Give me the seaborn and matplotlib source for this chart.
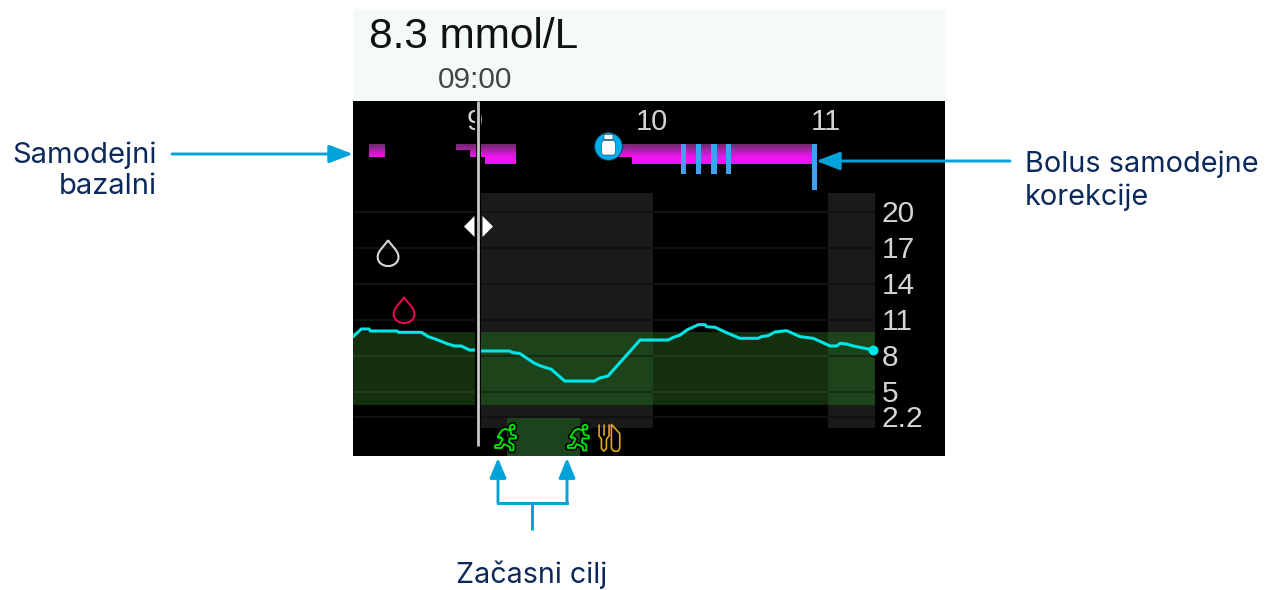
import numpy as np
import pandas as pd
import matplotlib
matplotlib.use("Agg")
import matplotlib.pyplot as plt
import matplotlib.patheffects as pe
from matplotlib.colors import LinearSegmentedColormap
from matplotlib.path import Path
import seaborn as sns

# glucose trace, minutes after 09:00 and mmol/L
glucose_min = [-43.1, -40.2, -37.6, -37.1, -27.9, -27.4, -19.5, -17.2, -14.4, -10.3, -8.1, -5.8, -2.9, -0.9,
               1.1, 10.9, 12.05, 14.35, 19.5, 21.8, 25.3, 29.9, 40.2, 41.9, 44.8, 48.2, 52.8, 55.9, 60.3,
               65.6, 67.4, 69.7, 72.0, 76.0, 78.3, 78.8, 81.7, 85.7, 90.3, 96.6, 97.8, 100.1, 102.4, 106.4,
               111.0, 115.6, 121.4, 123.7, 124.8, 127.1, 129.4, 136.3]
glucose_mmol = [9.59, 10.23, 10.23, 10.06, 10.06, 9.95, 9.95, 9.59, 9.36, 8.97, 8.81, 8.81, 8.47, 8.47,
                8.39, 8.39, 8.25, 8.19, 7.36, 7.13, 6.86, 5.88, 5.88, 6.13, 6.30, 7.22, 8.47, 9.31, 9.31,
                9.31, 9.53, 9.72, 10.14, 10.59, 10.59, 10.42, 10.37, 9.92, 9.45, 9.45, 9.59, 9.67, 9.98, 10.09,
                9.59, 9.45, 8.81, 8.81, 9.03, 8.97, 8.81, 8.47]

# auto basal segments
basal_start = [-37.6, -7.5, -2.9, 0.9, 2.3, 46.2, 53.2]
basal_end = [-32.4, -2.9, -0.9, 2.3, 12.7, 53.2, 115.0]
basal_rate = [1.3, 0.6, 1.3, 1.3, 2.0, 1.3, 2.0]

# auto correction boluses
bolus_min = [70.8, 76.0, 81.3, 86.3, 116.0]
bolus_size = [3.0, 3.0, 3.0, 3.0, 4.65]

grid_values = [20, 17, 14, 11, 8, 5, 2.87]
grid_labels = ["20", "17", "14", "11", "8", "5", "2.2"]
hour_min = [0, 60, 120]
hour_labels = ["9", "10", "11"]

target_low, target_high = 3.9, 10.0
shaded_windows = [(1.0, 60.2), (120.8, 136.9)]
clear_windows = [(-43.1, -0.9), (60.2, 120.8)]
temp_target_min = [9.4, 34.5]
meal_min = [45.2]

W, H = 1271, 590
NAVY = "#0b2a5b"
ARROW = "#00a3d9"
SCREEN = ["Liberation Sans", "DejaVu Sans"]
CAPTION = ["Inter", "DejaVu Sans"]


def px_rect(left, top, right, bottom):
    return [left / W, 1 - bottom / H, (right - left) / W, (bottom - top) / H]


def shape(points, cx, cy, closed=True):
    verts = [(x - cx, cy - y) for x, y in points]
    codes = [Path.MOVETO] + [Path.LINETO] * (len(verts) - 1)
    if closed:
        verts.append(verts[0])
        codes.append(Path.CLOSEPOLY)
    return Path(verts, codes)


sns.set_theme(style="white")
plt.rcParams["font.family"] = SCREEN

fig = plt.figure(figsize=(W / 100, H / 100), dpi=100, facecolor="white")
ax = fig.add_axes(px_rect(353, 101, 945, 456), facecolor="black", zorder=1)
ax_basal = fig.add_axes(px_rect(353, 144, 945, 194), facecolor="none", zorder=2)
ax_px = fig.add_axes([0, 0, 1, 1], facecolor="none", zorder=3)

# background bands and grid
for lo, hi in clear_windows:
    ax.fill_between([lo, hi], target_low, target_high, color="#132f0e", lw=0, zorder=1)
    ax.hlines(grid_values, lo, hi, colors="white", alpha=0.09, lw=1.1, zorder=1.5)
for lo, hi in shaded_windows:
    ax.fill_between([lo, hi], 1.95, 21.6, color="#1a1a1a", lw=0, zorder=1)
    ax.fill_between([lo, hi], target_low, target_high, color="#1c431a", lw=0, zorder=1.2)
    ax.hlines(grid_values, lo, hi, colors="black", alpha=0.45, lw=1.1, zorder=1.5)
for i in range(len(grid_values)):
    ax.text(139.3, grid_values[i] - 0.2, grid_labels[i], color="#d4d4d4", fontsize=21.5, va="center", ha="left", zorder=4)
ax.fill_between([10.0, 35.2], -0.38, 2.79, color="#1c441c", lw=0, zorder=1)

glucose = pd.DataFrame({"minutes": glucose_min, "mmol": glucose_mmol})
sns.lineplot(data=glucose, x="minutes", y="mmol", ax=ax, color="#00e5e5", lw=2.2, estimator=None, sort=False, zorder=3)
ax.scatter(glucose_min[-1] + 0.2, glucose_mmol[-1] - 0.15, s=60, color="black", lw=0, zorder=3.1)
ax.scatter(glucose_min[-1], glucose_mmol[-1], s=52, color="#00e5e5", lw=0, zorder=3.2)

for i in range(len(hour_min)):
    ax.text(hour_min[i] - (1.0 if i == 0 else 0), 27.5, hour_labels[i], color="#d4d4d4", fontsize=21,
            va="center", ha="center", zorder=2)

# cursor at 09:00
ax.vlines(0, -0.38, 29.3, colors="black", lw=4.3, zorder=3.5)
ax.vlines(0, 0.45, 29.3, colors="#c8c8c8", lw=2.0, zorder=5)

ax.scatter([-1.5], [18.87], marker=Path([(-1, 0), (0, 1), (0, -1), (-1, 0)], closed=True), s=228, color="white", lw=0, zorder=6)
ax.scatter([1.4], [18.87], marker=Path([(1, 0), (0, 1), (0, -1), (1, 0)], closed=True), s=228, color="white", lw=0, zorder=6)

# blood drops
drop = Path([(0, 1), (0.25, 0.55), (0.8, 0.2), (0.8, -0.3), (0.8, -0.75), (0.4, -1), (0, -1),
             (-0.4, -1), (-0.8, -0.75), (-0.8, -0.3), (-0.8, 0.2), (-0.25, 0.55), (0, 1)],
            [Path.MOVETO] + [Path.CURVE4] * 12)
ax.scatter([-31.0], [16.57], marker=drop, s=350, facecolors="none", edgecolors="#d8d8d8", linewidths=1.5, zorder=4)
ax.scatter([-25.5], [11.81], marker=drop, s=350, facecolors="none", edgecolors="#e0084f", linewidths=1.5, zorder=4)

# event icons on the bottom strip
runner = Path.make_compound_path(
    shape([(45, 40), (62, 45), (65, 58), (80, 62), (80, 70), (60, 70), (58, 82), (72, 90), (72, 108), (62, 108),
           (60, 96), (42, 88), (35, 100), (14, 100), (14, 92), (28, 90), (38, 72), (30, 65), (28, 70), (22, 65),
           (35, 45)], 46, 68),
    shape([(62, 30), (70, 26), (76, 32), (74, 41), (65, 42), (60, 37)], 46, 68),
)
meal = Path.make_compound_path(
    shape([(328, 28), (328, 62), (335, 72), (335, 100), (342, 108), (350, 100), (350, 72), (358, 62), (358, 28)],
          358, 68, closed=False),
    shape([(343, 28), (343, 62)], 358, 68, closed=False),
    shape([(365, 28), (365, 100), (372, 108), (385, 108), (390, 100), (390, 55)], 358, 68),
)
halo = [pe.withStroke(linewidth=3.8, foreground="black")]
ax.scatter(temp_target_min, [1.14] * len(temp_target_min), marker=runner, s=369, facecolors="none",
           edgecolors="#00e000", linewidths=1.4, path_effects=halo, zorder=6)
ax.scatter(meal_min, [1.14], marker=meal, s=369, facecolors="none", edgecolors="#e0a820", linewidths=1.2, zorder=6)

ax.set_xlim(-43.1, 161.03)
ax.set_ylim(-0.38, 29.27)
ax.set_xlabel("")
ax.set_ylabel("")
ax.set_xticks([])
ax.set_yticks([])
sns.despine(ax=ax, left=True, bottom=True)

# basal bars with the pump's vertical fade
fade = LinearSegmentedColormap.from_list("basal", ["#6f2a6c", "#f014f0"])
bars = ax_basal.bar(basal_start, basal_rate, width=np.array(basal_end) - np.array(basal_start), align="edge",
                    color="none", lw=0)
for bar, rate in zip(bars, basal_rate):
    col = np.linspace(0, rate, 40).reshape(-1, 1)
    ax_basal.imshow(col, extent=[bar.get_x(), bar.get_x() + bar.get_width(), rate, 0], aspect="auto",
                    cmap=fade, vmin=0, vmax=1.3, interpolation="bilinear", zorder=2)
ax_basal.bar(bolus_min, bolus_size, width=1.9, color="#3f9ff0", lw=0, zorder=3)

vial = Path.make_compound_path(
    shape([(44, 33), (66, 33), (66, 45), (44, 45)], 55, 58),
    shape([(42, 48), (68, 48), (72, 54), (72, 80), (68, 84), (42, 84), (38, 80), (38, 54)], 55, 58),
)
ax_basal.scatter([45.0], [0.17], s=400, color="#00aeef", edgecolors="#06354d", linewidths=0.6, clip_on=False, zorder=5)
ax_basal.scatter([45.0], [0.0], marker=vial, s=230, color="white", edgecolors="#27313a", linewidths=0.4,
                 clip_on=False, zorder=6)

ax_basal.set_xlim(-43.1, 161.03)
ax_basal.set_ylim(5, 0)
ax_basal.axis("off")

# screen header, captions and arrows in pixel space
ax_px.set_xlim(0, W)
ax_px.set_ylim(H, 0)
ax_px.axis("off")
ax_px.fill_between([353, 945], 9, 101, color="#f4faf5", lw=0)
ax_px.text(369, 37, "8.3 mmol/L", fontsize=30.5, color="#111111", va="center", ha="left")
ax_px.text(475, 80, "09:00", fontsize=21.5, color="#444444", va="center", ha="center")

ax_px.text(157, 155, "Samodejni", color=NAVY, fontsize=21, family=CAPTION, ha="right", va="center")
ax_px.text(157, 187, "bazalni", color=NAVY, fontsize=21, family=CAPTION, ha="right", va="center")
ax_px.text(1025, 164, "Bolus samodejne", color=NAVY, fontsize=20.8, family=CAPTION, ha="left", va="center")
ax_px.text(1025, 197, "korekcije", color=NAVY, fontsize=20.8, family=CAPTION, ha="left", va="center")
ax_px.text(532, 575, "Začasni cilj", color=NAVY, fontsize=20.6, family=CAPTION, ha="center", va="center")

big = dict(arrowstyle="-|>,head_length=1.45,head_width=0.55", color=ARROW, lw=2.1, mutation_scale=10, shrinkA=0, shrinkB=0)
small = dict(arrowstyle="-|>,head_length=1.2,head_width=0.5", color=ARROW, lw=2.1, mutation_scale=10, shrinkA=0, shrinkB=0)
ax_px.annotate("", xy=(353, 154), xytext=(172, 154), arrowprops=big)
ax_px.annotate("", xy=(816, 161), xytext=(1010, 161), arrowprops=big)
ax_px.annotate("", xy=(498, 458), xytext=(498, 503), arrowprops=small)
ax_px.annotate("", xy=(567, 458), xytext=(567, 503), arrowprops=small)
ax_px.plot([498, 567], [503, 503], color=ARROW, lw=2.1, solid_capstyle="projecting")
ax_px.plot([532, 532], [503, 530], color=ARROW, lw=2.1, solid_capstyle="butt")

fig.savefig("out.png", dpi=100, facecolor="white")
